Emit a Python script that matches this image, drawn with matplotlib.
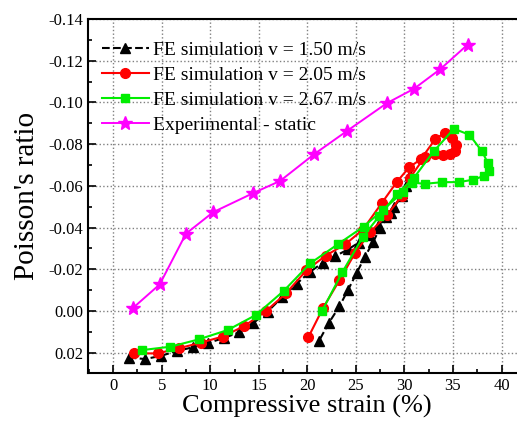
import matplotlib
matplotlib.use("Agg")
import matplotlib.pyplot as plt
from matplotlib.ticker import MultipleLocator

plt.rcParams['font.family'] = ['Liberation Serif', 'DejaVu Serif']

# FE simulation v = 1.50 m/s
bx = [1.6, 3.3, 4.9, 6.6, 8.2, 9.8, 11.4, 13.0, 14.4, 15.9, 17.4, 18.9, 20.3, 21.6, 22.9, 24.2, 25.3, 26.4,
      27.3, 28.1, 28.9, 29.7, 30.2, 30.6,
      29.8, 28.6, 27.5, 26.8, 25.9, 25.1, 24.2, 23.3, 22.2, 21.2]
by = [0.0223, 0.0230, 0.0215, 0.0191, 0.0174, 0.0153, 0.0129, 0.0102, 0.0059, 0.0003, -0.0066, -0.0131,
      -0.0189, -0.0232, -0.0264, -0.0296, -0.0328, -0.0365, -0.0410, -0.0450, -0.0500, -0.0550, -0.0600, -0.0650,
      -0.0565, -0.0470, -0.0400, -0.0333, -0.0258, -0.0184, -0.0102, -0.0022, 0.0058, 0.0143]

# FE simulation v = 2.05 m/s
rx = [2.2, 4.6, 6.8, 9.0, 11.3, 13.5, 15.7, 17.8, 19.9, 21.9, 23.9, 25.7, 27.7, 29.2, 30.5, 31.7, 33.2,
      34.2, 34.9, 35.3, 35.2, 34.7, 34.0, 33.1, 32.1,
      30.6, 29.7, 28.2, 26.5, 24.9, 23.3, 21.6, 20.1]
ry = [0.0203, 0.0203, 0.0178, 0.0152, 0.0122, 0.0072, 0.0002, -0.0085, -0.0195, -0.0266, -0.0320, -0.0389,
      -0.0520, -0.0618, -0.0690, -0.0728, -0.0826, -0.0855, -0.0830, -0.0795, -0.0768, -0.0755, -0.0750,
      -0.0752, -0.0740,
      -0.0640, -0.0550, -0.0460, -0.0380, -0.0277, -0.0147, -0.0013, 0.0126]

# FE simulation v = 2.67 m/s
gx = [3.0, 5.9, 8.8, 11.8, 14.7, 17.6, 20.3, 23.2, 25.8, 27.8, 29.9, 30.8, 32.1, 33.9, 35.6, 37.1, 38.2,
      38.7, 38.6, 38.0, 36.7, 35.1,
      33.0, 31.0, 29.2, 27.4, 25.7, 23.6, 21.5]
gy = [0.0187, 0.0171, 0.0136, 0.0091, 0.0019, -0.0098, -0.0229, -0.0322, -0.0405, -0.0485, -0.0573, -0.0616,
      -0.0610, -0.0618, -0.0618, -0.0630, -0.0648, -0.0672, -0.0709, -0.0765, -0.0845, -0.0874,
      -0.0765, -0.0640, -0.0560, -0.0455, -0.0354, -0.0186, 0.0001]

# Experimental - static
ex = [2.0, 4.8, 7.5, 10.3, 14.4, 17.2, 20.7, 24.1, 28.2, 31.0, 33.7, 36.5]
ey = [-0.0013, -0.0128, -0.0371, -0.0474, -0.0565, -0.0624, -0.0752, -0.0864, -0.0997, -0.1066, -0.1160, -0.1277]

xticks = [0, 5, 10, 15, 20, 25, 30, 35, 40]
yticks = [-0.14, -0.12, -0.10, -0.08, -0.06, -0.04, -0.02, 0.00, 0.02]

fig = plt.figure(figsize=(5.17, 4.28), dpi=100)
ax = fig.add_axes([0.170, 0.1285, 0.847, 0.827])

ax.plot(bx, by, color='black', ls='--', lw=1.5, marker='^', ms=7, label='FE simulation v = 1.50 m/s')
ax.plot(rx, ry, color='red', ls='-', lw=1.5, marker='o', ms=7, label='FE simulation v = 2.05 m/s')
ax.plot(gx, gy, color='#00ee00', ls='-', lw=1.5, marker='s', ms=6, label='FE simulation v = 2.67 m/s')
ax.plot(ex, ey, color='magenta', ls='-', lw=1.4, marker='*', ms=10, label='Experimental - static')

ax.set_xlim(-2.6, 42.5)
ax.set_ylim(0.0297, -0.14)
ax.set_xticks(xticks)
ax.set_yticks(yticks)
ax.set_yticklabels(['%.2f' % v if v != 0 else '0.00' for v in yticks])
ax.xaxis.set_minor_locator(MultipleLocator(2.5))
ax.yaxis.set_minor_locator(MultipleLocator(0.01))
ax.tick_params(which='both', direction='in', top=False, right=False, labelsize=12, width=1.2)
ax.tick_params(which='major', length=6)
ax.tick_params(which='minor', length=3)
ax.grid(True, which='major', ls=':', color='gray', lw=1)
for s in ax.spines.values():
    s.set_linewidth(1.5)

ax.set_xlabel('Compressive strain (%)', fontsize=19, labelpad=1)
ax.set_ylabel("Poisson's ratio", fontsize=21, labelpad=6)

ax.legend(loc='upper left', bbox_to_anchor=(0.01, 0.965), frameon=False, fontsize=14,
          handlelength=2.4, handletextpad=0.2, labelspacing=0.38, borderpad=0)

fig.savefig('out.png', dpi=100)
